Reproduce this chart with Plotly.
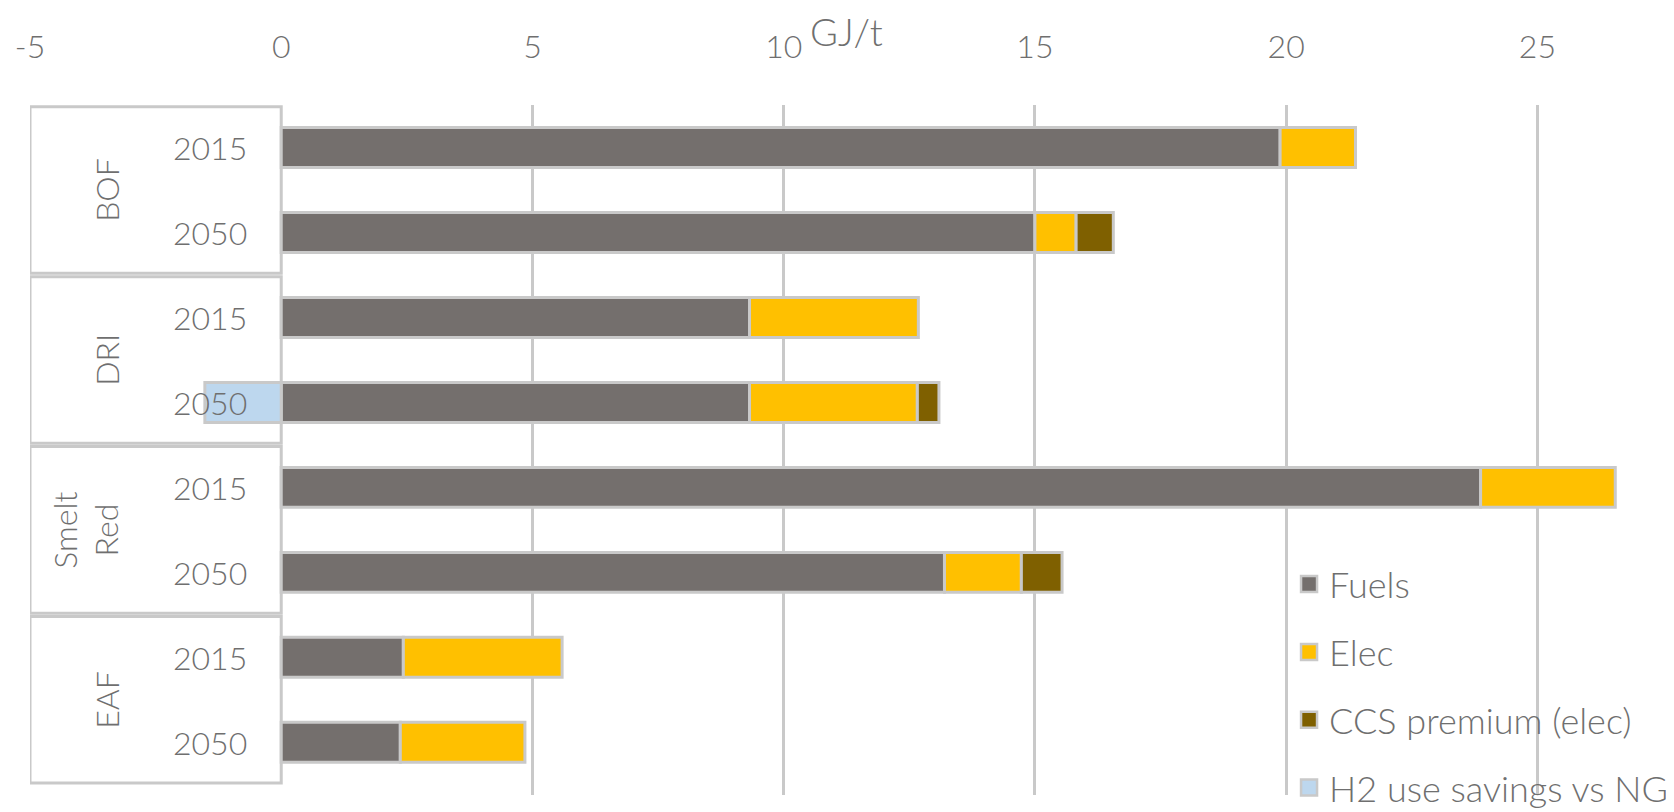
import plotly.graph_objects as go

groups = ["BOF", "DRI", "Smelt<br>Red", "EAF"]
years = ["2015", "2050"]
fuels = [19.88, 15.0, 9.32, 9.32, 23.87, 13.2, 2.43, 2.37]
elec = [1.5, 0.82, 3.36, 3.34, 2.68, 1.53, 3.16, 2.48]
ccs = [None, 0.74, None, 0.43, None, 0.81, None, None]
h2 = [None, None, None, -1.52, None, None, None, None]
xticks = [-5, 0, 5, 10, 15, 20, 25]
grid_at = [5, 10, 15, 20, 25]

series = [
    ("Fuels", fuels, "#746f6d"),
    ("Elec", elec, "#ffc000"),
    ("CCS premium (elec)", ccs, "#7f6000"),
    ("H2 use savings vs NG", h2, "#bdd7ee"),
]

FONT = "Lato"
TXT = "#6f6f6f"
EDGE = "#c9c9c9"

def f(size):
    return dict(family=FONT, size=size, color=TXT, weight=300)

ypos = list(range(len(groups) * len(years)))

fig = go.Figure()
for i, (name, vals, col) in enumerate(series):
    fig.add_trace(go.Bar(
        name=name, y=ypos, x=vals, orientation="h", width=0.47,
        marker=dict(color=col, line=dict(color=EDGE, width=3)),
        legendgroup=str(i), showlegend=False,
    ))
    # legend swatch (larger square, like the original key)
    fig.add_trace(go.Scatter(
        name=name, x=[None], y=[None], mode="markers",
        marker=dict(symbol="square", size=16, color=col,
                    line=dict(color=EDGE, width=2.5)),
        legendgroup=str(i), showlegend=True, hoverinfo="skip",
    ))

shapes = []
annotations = []
for g, gname in enumerate(groups):
    y0 = g * len(years) - 0.5
    y1 = y0 + len(years)
    shapes.append(dict(type="rect", xref="x", yref="y", x0=-5, x1=0,
                       y0=y0 + 0.02, y1=y1 - 0.02, layer="between",
                       fillcolor="white", line=dict(color=EDGE, width=3)))
    nlines = gname.count("<br>") + 1
    annotations.append(dict(xref="x", yref="y", x=-3.47 - 0.42 * (nlines - 1),
                            y=(y0 + y1) / 2, text=gname, textangle=-90,
                            showarrow=False, font=f(32)))
    for k, yr in enumerate(years):
        annotations.append(dict(xref="x", yref="y", x=-0.65, y=g * len(years) + k,
                                text=yr, xanchor="right", showarrow=False,
                                font=f(32)))

annotations.append(dict(xref="paper", yref="paper", x=0.5, y=1.0, yshift=74,
                        text="GJ/t", showarrow=False, xanchor="center",
                        yanchor="middle", font=f(38)))

fig.update_layout(
    width=1666, height=804,
    margin=dict(l=22, r=11, t=97, b=17, autoexpand=False),
    barmode="relative",
    bargap=0.5,
    plot_bgcolor="white", paper_bgcolor="white",
    font=f(32),
    xaxis=dict(range=[-5, 27.5], side="top", tickvals=xticks,
               ticktext=[str(v) for v in xticks], showgrid=False,
               zeroline=False, showline=False, ticks="", automargin=False,
               ticklabelstandoff=40, tickfont=f(32),
               minor=dict(tickvals=grid_at, showgrid=True, gridcolor=EDGE,
                          gridwidth=3, ticks="")),
    yaxis=dict(range=[7.62, -0.5], showticklabels=False, showgrid=False,
               zeroline=False, ticks="", automargin=False),
    shapes=shapes,
    annotations=annotations,
    showlegend=True,
    legend=dict(x=0.771, y=0.349, xanchor="left", yanchor="top",
                traceorder="grouped", tracegroupgap=18, bgcolor="rgba(0,0,0,0)",
                itemwidth=30, itemsizing="trace", font=f(36)),
)

fig.write_html("out.html")
